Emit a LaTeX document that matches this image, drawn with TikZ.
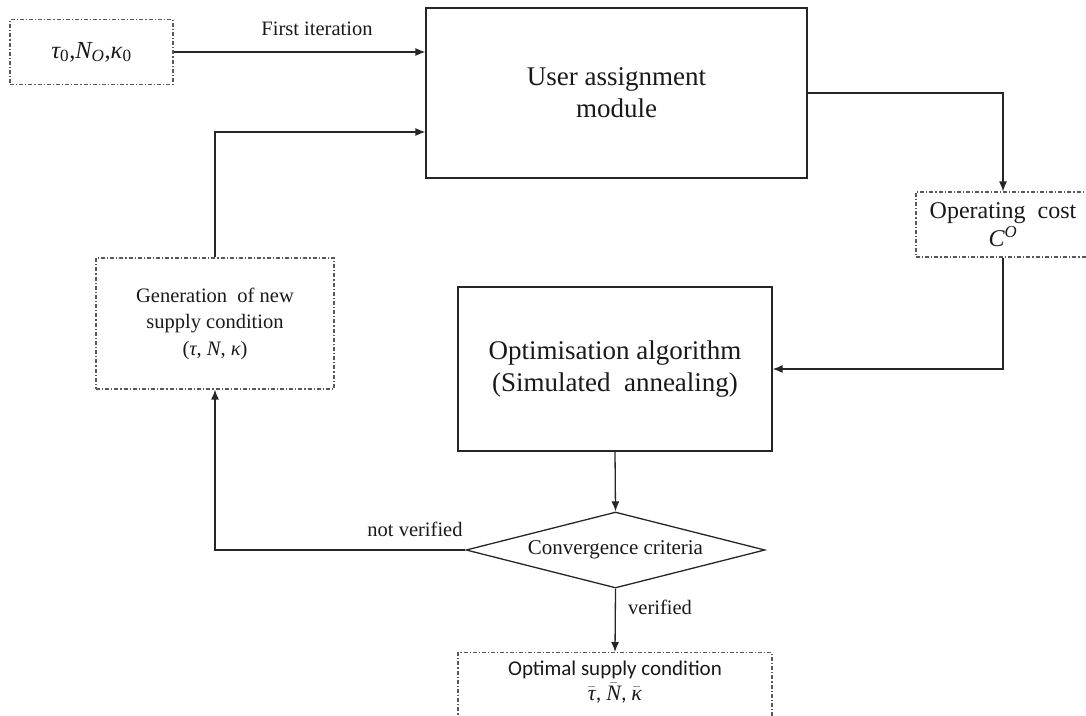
\documentclass[tikz,border=0pt]{standalone}
\usepackage{fontspec}
\setmainfont{Liberation Serif}
\newfontfamily\calibri{Carlito}
\newfontfamily\varserif{Liberation Serif}
\usetikzlibrary{shapes.geometric,arrows.meta}
\newcommand\vi[1]{{\varserif\itshape #1}}
\newcommand\vsub[1]{\textsubscript{\varserif #1}}
\newcommand\vbar[1]{$\bar{\mbox{\varserif\itshape #1}}$}
\begin{document}
\begin{tikzpicture}[x=1pt,y=-1pt,
  line/.style={line width=1.3pt, draw=black!85},
  arr/.style={line, -{Latex[length=10pt,width=8pt]}},
  sbox/.style={draw=black!85, line width=1.3pt, inner sep=0pt, align=center, text=black!90},
  dbox/.style={draw=black!65, line width=1.1pt, dash pattern=on 4pt off 2pt on 1.2pt off 2pt, inner sep=0pt, align=center, text=black!90},
  lbl/.style={inner sep=0pt, text=black!90, font=\fontsize{20.5}{24}\selectfont}
]
\useasboundingbox (0,0) rectangle (1086,715);

\node[dbox, minimum width=163, minimum height=65, font=\fontsize{24.5}{28}\selectfont] (init) at (91.5,52) {\vi{τ}\vsub{0},\vi{N}\textsubscript{\vi{O}},\vi{κ}\vsub{0}};
\node[sbox, minimum width=381, minimum height=170, font=\fontsize{27}{32}\selectfont] (uam) at (616.5,93) {User assignment\\module};
\node[dbox, minimum width=174, minimum height=65, font=\fontsize{24}{28}\selectfont] (opcost) at (1003,224.5) {Operating\ \ cost\\\vi{C}\textsuperscript{\vi{O}}};
\node[dbox, minimum width=238, minimum height=131, font=\fontsize{20.5}{26.5}\selectfont] (gen) at (215,323.5) {Generation\ \ of new\\supply condition\\(\vi{τ}, \vi{N}, \vi{κ})};
\node[sbox, minimum width=314, minimum height=164, font=\fontsize{27}{32}\selectfont] (opt) at (615,369) {Optimisation algorithm\\(Simulated\ \ annealing)};
\node[draw=black!85, line width=1.3pt, shape=diamond, aspect=3.93, inner sep=0pt, minimum width=299, minimum height=76, text=black!90, font=\fontsize{21}{24}\selectfont] (conv) at (615.5,550) {Convergence criteria};
\node[dbox, minimum width=314, minimum height=90, anchor=north,
  label={[anchor=north, yshift=-5pt, align=center, text=black!90, font=\calibri\fontsize{21}{25}\selectfont]north:{Optimal supply condition\\{\fontsize{22}{25}\selectfont\vbar{τ}, \vbar{N}, \vbar{κ}}}}] (final) at (615,652) {};

\node[lbl] (firstit) at (317,29) {First iteration};
\node[lbl] (notver) at (415,529) {not verified};
\node[lbl, anchor=west] (ver) at (628,607) {verified};

\draw[arr] (init.east) -- (init.east -| uam.west);
\draw[arr] (gen.north) |- ([yshift=-39pt]uam.west);
\draw[arr] (uam.east) -| (opcost.north);
\draw[arr] (opcost.south) |- (opt.east);
\draw[arr] (opt.south) -- (conv.north);
\draw[arr] (conv.west) -| (gen.south);
\draw[arr] (conv.south) -- (final.north);
\end{tikzpicture}
\end{document}
